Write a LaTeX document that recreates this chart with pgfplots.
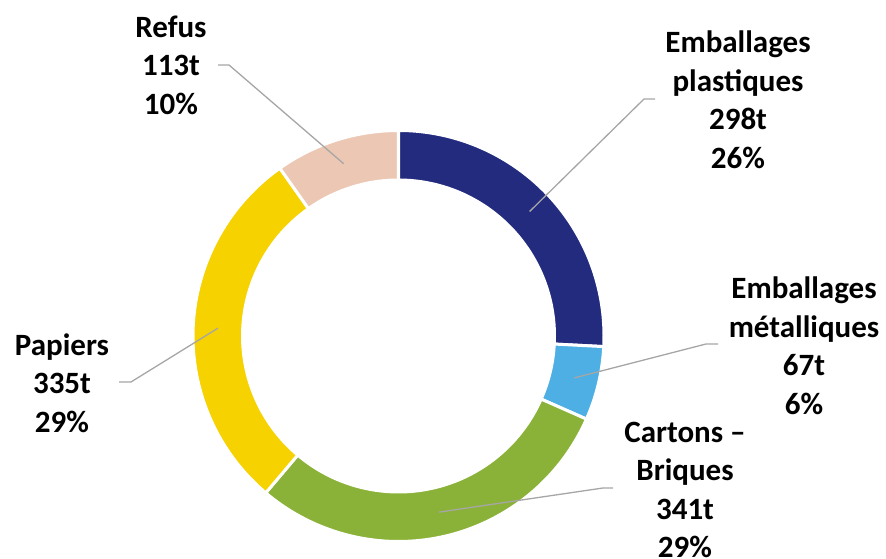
\documentclass[border=0pt]{standalone}
\usepackage{pgfplots}
\pgfplotsset{compat=1.18}
\usepackage{pgfplotstable}
\usepackage{fontspec}
\setmainfont{Carlito}
\definecolor{cPlast}{RGB}{35,43,127}
\definecolor{cMetal}{RGB}{77,175,227}
\definecolor{cCart}{RGB}{139,178,56}
\definecolor{cPap}{RGB}{245,210,0}
\definecolor{cRefus}{RGB}{236,200,180}
\definecolor{leadc}{RGB}{166,166,166}
\pgfplotstableread{
name value col
Plastiques 298 cPlast
Metal 67 cMetal
Cartons 341 cCart
Papiers 335 cPap
Refus 113 cRefus
}\donut
\begin{document}
\begin{tikzpicture}
\def\total{0}
\pgfplotsforeachungrouped \i in {0,...,4}{%
  \pgfplotstablegetelem{\i}{value}\of\donut
  \pgfmathsetmacro\total{\total+\pgfplotsretval}%
}
\def\cur{90}
\pgfplotsforeachungrouped \i in {0,...,4}{%
  \pgfplotstablegetelem{\i}{value}\of\donut
  \let\prev\cur
  \expandafter\xdef\csname aS\i\endcsname{\cur}%
  \pgfmathsetmacro\cur{\cur-360*(\pgfplotsretval/\total)}%
  \expandafter\xdef\csname aE\i\endcsname{\cur}%
  \pgfmathsetmacro\midang{(\prev+\cur)/2}%
  \expandafter\xdef\csname aM\i\endcsname{\midang}%
  \pgfplotstablegetelem{\i}{col}\of\donut
  \colorlet{seg\i}{\pgfplotsretval}%
}
\begin{axis}[scale only axis, width=886pt, height=559pt,
  xmin=0, xmax=886, ymin=0, ymax=559, hide axis, clip=false]
\pgfplotsinvokeforeach{0,...,4}{
  \filldraw[fill=seg#1, draw=white, line width=3pt]
    ([shift={(\csname aS#1\endcsname:205.5pt)}]axis cs:398.5,223)
    arc[start angle=\csname aS#1\endcsname, end angle=\csname aE#1\endcsname, radius=205.5pt]
    -- ([shift={(\csname aE#1\endcsname:156pt)}]axis cs:398.5,223)
    arc[start angle=\csname aE#1\endcsname, end angle=\csname aS#1\endcsname, radius=156pt]
    -- cycle;
}
\tikzset{leader/.style={draw=leadc, line width=1.3pt}}
\draw[leader] (axis cs:655,460) -- (axis cs:644,460) -- ([shift={(\csname aM0\endcsname:180.75pt)}]axis cs:398.5,223);
\draw[leader] (axis cs:718,215) -- (axis cs:706,215) -- ([shift={(\csname aM1\endcsname:180.75pt)}]axis cs:398.5,223);
\draw[leader] (axis cs:613,71) -- (axis cs:603,71) -- ([shift={(\csname aM2\endcsname:180.75pt)}]axis cs:398.5,223);
\draw[leader] (axis cs:119,177) -- (axis cs:131,177) -- ([shift={(\csname aM3\endcsname:180.75pt)}]axis cs:398.5,223);
\draw[leader] (axis cs:218,494) -- (axis cs:229,494) -- ([shift={(\csname aM4\endcsname:180.75pt)}]axis cs:398.5,223);
\tikzset{lab/.style={align=center, inner sep=0pt, font=\fontsize{31}{38.5}\selectfont\bfseries}}
\node[lab] at (axis cs:738,459) {Emballages\\plastiques\\298t\\26\%};
\node[lab] at (axis cs:804,213) {Emballages\\métalliques\\67t\\6\%};
\node[lab] at (axis cs:685,69) {Cartons –\\Briques\\341t\\29\%};
\node[lab] at (axis cs:62,176) {Papiers\\335t\\29\%};
\node[lab] at (axis cs:171,494) {Refus\\113t\\10\%};
\end{axis}
\pgfresetboundingbox
\useasboundingbox (0,0) rectangle (886pt,559pt);
\end{tikzpicture}
\end{document}
